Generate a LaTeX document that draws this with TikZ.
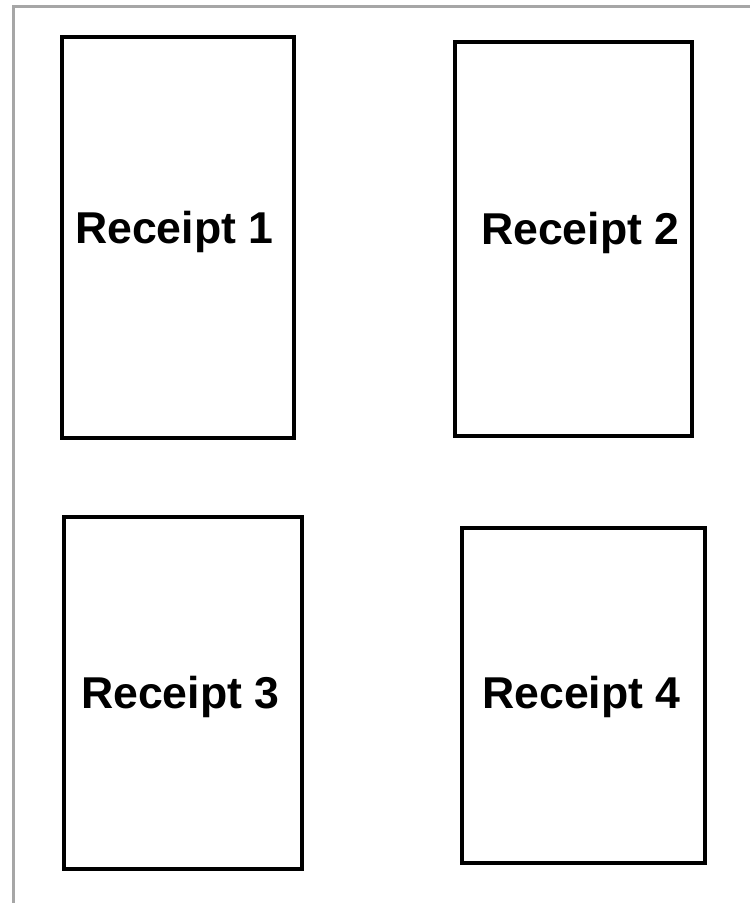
\documentclass[tikz,border=0pt]{standalone}
\usepackage{fontspec}
\setmainfont{Liberation Sans}
\begin{document}
\begin{tikzpicture}[x=1pt,y=-1pt,
  receiptbox/.style={draw=black,line width=3.2pt},
  receipttext/.style={anchor=base west,inner sep=0pt,font=\fontsize{44.6}{48}\selectfont\bfseries,text=black},
  frameline/.style={draw=black!35,line width=3pt}]
\useasboundingbox (0,0) rectangle (750,903);
\coordinate (ftl) at (13,6);
\coordinate (ftr) at (752,6);
\coordinate (fbl) at (13,905);
\draw[frameline] (fbl) -- (ftl) -- (ftr);
\draw[receiptbox] (62,37) rectangle (294,438) node[pos=0.5,draw=none,inner sep=0] (b1) {};
\draw[receiptbox] (455,42) rectangle (692,436) node[pos=0.5,draw=none,inner sep=0] (b2) {};
\draw[receiptbox] (64,517) rectangle (302,869) node[pos=0.5,draw=none,inner sep=0] (b3) {};
\draw[receiptbox] (462,528) rectangle (705,863) node[pos=0.5,draw=none,inner sep=0] (b4) {};
\node[receipttext] (t1) at (75,243) {Receipt 1};
\node[receipttext] (t2) at (481,244) {Receipt 2};
\node[receipttext] (t3) at (81,708) {Receipt 3};
\node[receipttext] (t4) at (482,708) {Receipt 4};
\end{tikzpicture}
\end{document}
